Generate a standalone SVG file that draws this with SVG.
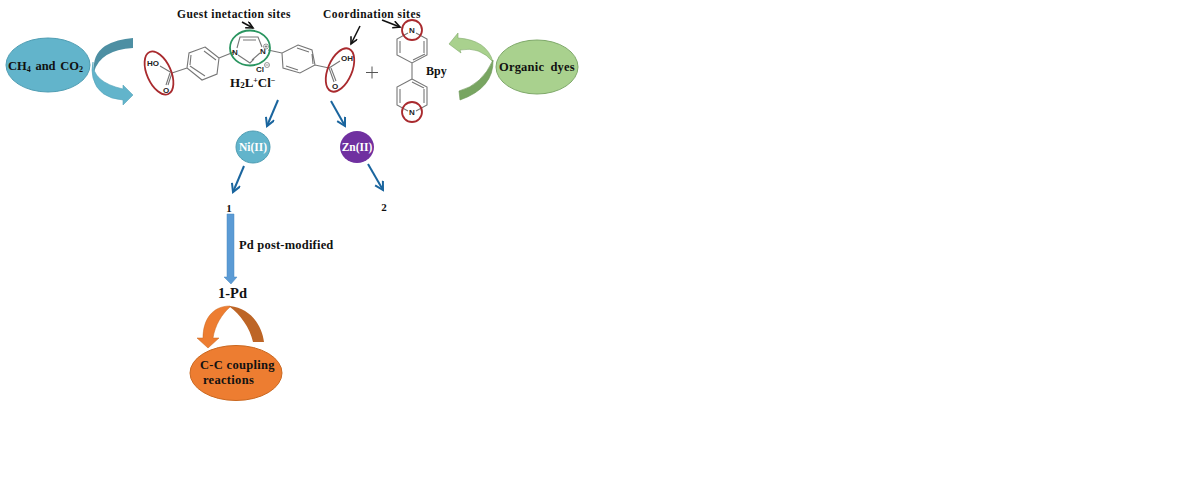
<svg xmlns="http://www.w3.org/2000/svg" width="1200" height="484" viewBox="0 0 1200 484">
<style>
text{font-family:"Liberation Serif","Times New Roman",serif;font-weight:700;fill:#111}
.s{font-size:11.500px;letter-spacing:.45px}
.c{font-family:"Liberation Sans",Arial,sans-serif;font-weight:700;font-size:8px;fill:#222;text-anchor:middle}
.b{fill:none;stroke:#777;stroke-width:1.1}
.r{fill:none;stroke:#a92a2e;stroke-width:1.8}
.k{fill:none;stroke:#111;stroke-width:1.6;marker-end:url(#ka)}
.u{fill:none;stroke:#1a659e;stroke-width:2;marker-end:url(#ua)}
</style>
<defs>
<marker id="ka" markerUnits="userSpaceOnUse" markerWidth="10" markerHeight="10" refX="8" refY="4" orient="auto"><path d="M1 .5L8 4L1 7.5" fill="none" stroke="#111" stroke-width="1.6"/></marker>
<marker id="ua" markerUnits="userSpaceOnUse" markerWidth="12" markerHeight="12" refX="9" refY="5" orient="auto"><path d="M1 .5L9 5L1 9.5" fill="none" stroke="#1a659e" stroke-width="2"/></marker>
</defs>
<rect width="1200" height="484" fill="#fff"/>
<g id="ligand">
<path class="b" d="M205 47L219 58L217 74L202 80L187 68L189 53ZM204 51L216 60M205 76L190 66M191 55L190 65M219 58L234 52M187 68L172 73M172 73L160 66M172 73L168 85M170 73L166 85"/>
<path class="b" d="M298 45L312 50L315 65L300 73L283 68L282 53ZM297 48L309 52M312 54L313 64M298 70L286 66M282 53L268 50M315 65L329 68M329 68L340 61M329 68L334 82M331 68L336 81"/>
<path class="b" d="M237 48L240 37L258 37L262 47M254 59L250 63L238 55M243 40L256 40M252 60L260 53"/>
<ellipse cx="250" cy="48" rx="20" ry="17.500" fill="none" stroke="#2a9560" stroke-width="1.800"/>
<ellipse class="r" cx="159" cy="73" rx="12" ry="23" transform="rotate(-24 159 73)"/>
<ellipse class="r" cx="340" cy="70" rx="12" ry="23" transform="rotate(23 340 70)"/>
<text class="c" x="153" y="66">HO</text><text class="c" x="166" y="93">O</text>
<text class="c" x="347" y="61">OH</text><text class="c" x="335" y="89">O</text>
<text class="c" x="235" y="55">N</text><text class="c" x="263" y="54">N</text>
<circle cx="266" cy="46.500" r="2.500" fill="none" stroke="#555" stroke-width=".6"/>
<path d="M264.500 46.500H267.500M266 45V48" stroke="#555" stroke-width=".6" fill="none"/>
<text class="c" x="260" y="72">Cl</text><circle cx="267" cy="65" r="2.500" fill="none" stroke="#555" stroke-width=".6"/>
<path d="M265.500 65H268.500" stroke="#555" stroke-width=".6" fill="none"/>
<text x="230" y="87" style="font-size:13px">H<tspan font-size="9" dy="1">2</tspan><tspan dy="-1">L</tspan><tspan font-size="8" dy="-4">+</tspan><tspan dy="4">Cl</tspan><tspan font-size="8" dy="-4">−</tspan></text>
<text class="s" x="177" y="18">Guest inetaction sites</text>
</g>
<g id="bpy">
<path class="b" d="M408 33L397 39L397 55L412 63L427 55L427 39L416 33M400 41L400 53M424 41L424 53M413 60L425 54M412 63L412 79M412 79L427 87L427 105L416 111M412 79L397 87L397 105L408 111M400 89L400 103M424 89L424 103M412 82L424 88"/>
<circle class="r" cx="412" cy="30" r="10"/><circle class="r" cx="412" cy="112" r="10"/>
<text class="c" x="412" y="33">N</text><text class="c" x="412" y="115">N</text>
<text x="426" y="75" style="font-size:12px">Bpy</text>
<text class="s" x="323" y="18">Coordination sites</text>
</g>
<g id="plus"><path d="M366 72.500H378M372 66.500V78.500" stroke="#555" stroke-width="1" fill="none"/></g>
<g id="ch4">
<ellipse cx="48" cy="65" rx="42" ry="27" fill="#62b4cb" stroke="#4f9db3"/>
<text x="8" y="70" style="font-size:12.500px;word-spacing:1.500px">CH<tspan font-size="8" dy="2">4</tspan><tspan dy="-2"> and CO</tspan><tspan font-size="8" dy="2">2</tspan></text>
</g>
<g id="ch4-arrow">
<path d="M133 38V48Q100 50 94 72Q92 55 105 46Q117 39 133 38Z" fill="#4d8fa3"/>
<path d="M93 62Q92 82 123 89V85L133 95L123 105V100Q98 98 93 78Q91 70 93 62Z" fill="#62b4cb" stroke="#58a5bb" stroke-width=".6"/>
</g>
<g id="dyes">
<ellipse cx="537" cy="67" rx="41" ry="27" fill="#a9d18e" stroke="#7fa96a"/>
<text x="499" y="71" style="font-size:12.500px;word-spacing:3px;letter-spacing:.2px">Organic dyes</text>
</g>
<g id="dyes-arrow">
<path d="M458 33L449 44L461 53L460 50Q480 46 493 62Q487 40 458 38Z" fill="#a9d18e" stroke="#7fa96a" stroke-width=".6"/>
<path d="M493 60Q494 88 460 100L459 91Q482 85 493 60Z" fill="#78a561" stroke="#6b9656" stroke-width=".6"/>
</g>
<g id="ni"><ellipse cx="253" cy="147" rx="17" ry="16" fill="#62b4cb" stroke="#4f9db3"/><text x="253" y="151" text-anchor="middle" style="font-size:11.500px;fill:#fff">Ni(II)</text></g>
<g id="zn"><ellipse cx="357" cy="147" rx="17" ry="16" fill="#7030a0"/><text x="357" y="151" text-anchor="middle" style="font-size:11.500px;fill:#fff">Zn(II)</text></g>
<g id="n1"><text x="229" y="212" text-anchor="middle" style="font-size:11px">1</text></g>
<g id="n2"><text x="384" y="211" text-anchor="middle" style="font-size:11px">2</text></g>
<g id="pd-label"><text x="239" y="249" style="font-size:12.500px;letter-spacing:.2px">Pd post-modified</text></g>
<g id="pd-arrow"><path d="M227 214H234V277H237L231 284L224 277H227Z" fill="#5b9bd5" stroke="#4a88c0" stroke-width=".5"/></g>
<g id="n1pd"><text x="218" y="298" style="font-size:14.500px">1-Pd</text></g>
<g id="cc">
<ellipse cx="236" cy="373" rx="46" ry="27.500" fill="#ed7d31" stroke="#c9671f"/>
<text x="200" y="369" style="font-size:12.500px;letter-spacing:.3px">C-C coupling</text>
<text x="203" y="384" style="font-size:12.500px;letter-spacing:.3px">reactions</text>
</g>
<g id="cc-arrow">
<path d="M230 306C250 308 262 325 264 342H253C250 328 240 314 230 307Z" fill="#bd6526"/>
<path d="M230 306C212 306 203 320 203 338H197L208 348L219 338H213C215 325 222 314 230 307Z" fill="#ed7d31" stroke="#c9671f" stroke-width=".5"/>
</g>
<g id="connectors">
<path class="k" d="M242 22L253 28"/>
<path class="k" d="M360 26L351 44"/>
<path class="k" d="M382 20L400 27"/>
<path class="u" d="M278 100L267 126"/>
<path class="u" d="M331 101L345 126"/>
<path class="u" d="M244 166L233 192"/>
<path class="u" d="M368 164L383 190"/>
</g>
</svg>
